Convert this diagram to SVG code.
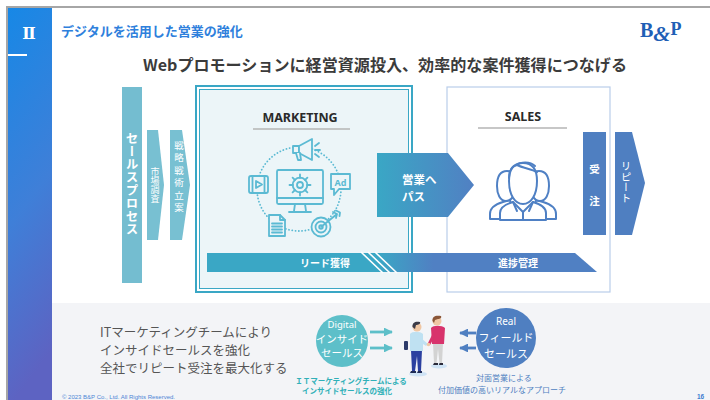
<svg xmlns="http://www.w3.org/2000/svg" width="710" height="400" viewBox="0 0 710 400">
  <defs>
    <linearGradient id="sideBar" x1="0" y1="0" x2="0.15" y2="1">
      <stop offset="0" stop-color="#1788e6"/>
      <stop offset="0.55" stop-color="#3f7fd8"/>
      <stop offset="1" stop-color="#5d63c2"/>
    </linearGradient>
    <linearGradient id="passGrad" x1="377" y1="0" x2="474" y2="0" gradientUnits="userSpaceOnUse">
      <stop offset="0" stop-color="#3aa7c5"/>
      <stop offset="1" stop-color="#5180c3"/>
    </linearGradient>
    <linearGradient id="progGrad" x1="207" y1="0" x2="597" y2="0" gradientUnits="userSpaceOnUse">
      <stop offset="0" stop-color="#3aa7c5"/>
      <stop offset="0.44" stop-color="#3aa7c5"/>
      <stop offset="0.58" stop-color="#5080c3"/>
      <stop offset="1" stop-color="#5080c3"/>
    </linearGradient>
    <marker id="tipR" viewBox="0 0 10 10" refX="9" refY="5" markerWidth="3.2" markerHeight="3.2" orient="auto">
      <path d="M0,0 L10,5 L0,10 Z" fill="context-stroke"/>
    </marker>
    <style>
      .jp { font-family: "Noto Sans CJK JP", "Noto Sans", sans-serif; }
      .lat { font-family: "Noto Sans", "Liberation Sans", sans-serif; }
      .vert { writing-mode: vertical-rl; text-anchor: middle; }
      .w { fill: #ffffff; }
      .b { font-weight: bold; }
      .ic { fill: #ecf5f8; stroke: #5bbad3; stroke-width: 1.8; stroke-linecap: round; stroke-linejoin: round; }
      .icl { fill: none; stroke: #5bbad3; stroke-width: 1.8; stroke-linecap: round; stroke-linejoin: round; }
      .pp { fill: #ffffff; stroke: #4f80c4; stroke-width: 2; stroke-linecap: round; stroke-linejoin: round; }
      .ppl { fill: none; stroke: #4f80c4; stroke-width: 2; stroke-linecap: round; stroke-linejoin: round; }
      .uline { stroke: #b4b4b4; stroke-width: 1.6; }
      .chev { fill: #78c0d2; }
    </style>
  </defs>

  <!-- page -->
  <rect x="0" y="0" width="710" height="400" fill="#ffffff"/>
  <rect x="52" y="303" width="658" height="97" fill="#f3f4f7"/>
  <path d="M7,400 V7 H710" fill="none" stroke="#a6a6a6" stroke-width="2"/>

  <!-- header -->
  <g id="header">
    <rect x="8" y="8" width="44" height="392" fill="url(#sideBar)"/>
    <text x="29" y="39" class="w b" font-family="DejaVu Serif, serif" font-size="16" text-anchor="middle">Ⅱ</text>
    <rect x="8" y="54" width="19" height="2" fill="#ffffff"/>
    <text x="61" y="36" class="jp b" font-size="13" fill="#2e80dc">デジタルを活用した営業の強化</text>
    <text id="logo" x="640" y="37" fill="#1f5fb6" font-family="Liberation Serif, serif" font-weight="bold" font-size="20"><tspan>B</tspan><tspan dy="4" font-size="22" font-style="italic">&amp;</tspan><tspan dy="-6" font-size="18">P</tspan></text>
    <text x="385" y="71" class="jp b" font-size="16" fill="#3b3b3b" text-anchor="middle" textLength="484" lengthAdjust="spacingAndGlyphs">Webプロモーションに経営資源投入、効率的な案件獲得につなげる</text>
  </g>

  <!-- process column -->
  <g id="sales-process">
    <rect x="122" y="87" width="20" height="196" fill="#74bdd0"/>
    <text x="132" y="184" class="jp vert w b" font-size="12.5" letter-spacing="0.5">セールスプロセス</text>
  </g>
  <g id="market-research">
    <path class="chev" d="M147,130 H158 L164,185 L158,240 H147 Z"/>
    <text x="155" y="185" class="jp vert w" font-size="9">市場調査</text>
  </g>
  <g id="strategy">
    <path class="chev" d="M170,130 H182 L190,185 L182,240 H170 Z"/>
    <text x="179" y="178" class="jp vert w" font-size="9.5" letter-spacing="3">戦略戦術立案</text>
  </g>

  <!-- marketing block -->
  <g id="marketing">
    <rect x="196" y="86" width="216" height="206" fill="#ffffff" stroke="#3aa7c5" stroke-width="2"/>
    <rect x="199.5" y="89.5" width="209" height="199" fill="#ecf5f8" stroke="#3aa7c5" stroke-width="1"/>
    <text x="300" y="122" class="lat b" font-size="12.5" fill="#2a2a2a" text-anchor="middle">MARKETING</text>
    <line class="uline" x1="253" y1="129" x2="350" y2="129"/>
    <!-- channel ring -->
    <circle cx="299" cy="189" r="42" fill="none" stroke="#5bbad3" stroke-width="1.8" stroke-dasharray="0.1 3.2" stroke-linecap="round"/>
    <!-- monitor with gear -->
    <rect class="ic" x="277" y="170" width="46" height="34" rx="1.5"/>
    <line class="icl" x1="277" y1="198" x2="323" y2="198"/>
    <path class="icl" d="M295,204 L294,211 M305,204 L306,211 M289,212 H311"/>
    <g transform="translate(300,185)">
      <circle class="icl" r="7.3"/>
      <circle class="icl" r="3"/>
      <path class="icl" stroke-width="3" stroke-linecap="butt" d="M0,-7 V-10.5 M0,7 V10.5 M-7,0 H-10.5 M7,0 H10.5 M5,-5 L7.4,-7.4 M-5,5 L-7.4,7.4 M5,5 L7.4,7.4 M-5,-5 L-7.4,-7.4"/>
    </g>
    <!-- megaphone -->
    <path class="ic" d="M293,146 H299 V153 H293 Z"/>
    <path class="ic" d="M299,146 L312,139 V160 L299,153 Z"/>
    <path class="ic" d="M296,153 L298,160 H301 L300,153"/>
    <path class="icl" d="M315,146 L319,143 M315,150 H320 M315,154 L319,157"/>
    <!-- video -->
    <rect class="ic" x="249" y="176" width="19" height="17" rx="2"/>
    <path class="icl" d="M252.5,176 V193 M264.5,176 V193"/>
    <path class="icl" d="M256,181 L262,184.5 L256,188 Z"/>
    <!-- ad bubble -->
    <path class="ic" d="M331,174 H350 V189 H339 L334,195 V189 H331 Z"/>
    <text x="340.5" y="185.5" class="lat b" font-size="9" fill="#5bbad3" text-anchor="middle">Ad</text>
    <!-- document -->
    <path class="ic" d="M269,215 H280 L285,220 V236 H269 Z"/>
    <path class="icl" d="M280,215 V220 H285 M272,223.5 H282 M272,226.5 H282 M272,229.5 H282 M272,232.5 H282"/>
    <!-- target -->
    <circle class="ic" cx="321" cy="227" r="9.5"/>
    <circle class="icl" cx="321" cy="227" r="5.5"/>
    <circle class="icl" cx="321" cy="227" r="1.8"/>
    <path class="icl" d="M321,227 L337,214 M333,212 L337,214 L336,218 M336,210.5 L340,212.5 L339.5,216"/>
  </g>

  <!-- sales block -->
  <g id="sales">
    <rect x="447" y="87" width="163" height="205" fill="#ffffff" stroke="#b9cdea" stroke-width="1.2"/>
    <text x="523" y="121" class="lat b" font-size="12.5" fill="#2a2a2a" text-anchor="middle">SALES</text>
    <line class="uline" x1="478" y1="128" x2="567" y2="128"/>
    <!-- team icon -->
    <path class="pp" d="M490,219 V214 C490,207 496,204 503,202 L510,200 L514,219 Z"/>
    <path class="pp" d="M556,219 V214 C556,207 550,204 543,202 L536,200 L532,219 Z"/>
    <path class="pp" d="M497,186 C497,176 501,171 507,171 C513,171 516,175 516,184 C516,194 512,201 506,201 C500,201 497,194 497,186 Z"/>
    <path class="pp" d="M549,186 C549,176 545,171 539,171 C533,171 530,175 530,184 C530,194 534,201 540,201 C546,201 549,194 549,186 Z"/>
    <path class="pp" d="M500,220 V213 C500,207 506,204 513,202 L523,212 L533,202 C540,204 546,207 546,213 V220 Z"/>
    <path class="pp" d="M509,181 C509,168 515,163 523,163 C531,163 537,168 537,181 C537,195 531,204 523,204 C515,204 509,195 509,181 Z"/>
    <path class="ppl" d="M509,178 C509,170 512,166 517,165 C523,168 531,169 537,172 M517,165 C520,162 530,161 535,166"/>
    <path class="ppl" d="M513,202 L517,211 M533,202 L529,211 M523,212 V220"/>
  </g>

  <!-- order / repeat -->
  <g id="order">
    <rect x="583" y="132" width="23" height="103" fill="#4f7fc1"/>
    <text x="594.5" y="173" class="jp w b" font-size="10.5" text-anchor="middle">受</text>
    <text x="594.5" y="205" class="jp w b" font-size="10.5" text-anchor="middle">注</text>
  </g>
  <g id="repeat">
    <path d="M615,132 H632 L645,183 L632,235 H615 Z" fill="#4f7fc1"/>
    <text x="626" y="182" class="jp vert w" font-size="10.5">リピート</text>
  </g>

  <!-- pass to sales -->
  <g id="pass-to-sales">
    <path d="M377,153 H448 L474,185 L448,217 H377 Z" fill="url(#passGrad)"/>
    <text x="402" y="184" class="jp w b" font-size="11.5">営業へ</text>
    <text x="402" y="201" class="jp w b" font-size="11.5">パス</text>
  </g>

  <!-- lead / progress band -->
  <g id="pipeline">
    <path d="M207,253 H575 L597,272 H207 Z" fill="url(#progGrad)"/>
    <path d="M361,252 L383,273 M368,252 L390,273 M375,252 L397,273" stroke="#ffffff" stroke-width="1.6"/>
    <text x="300" y="266.5" class="jp w b" font-size="10">リード獲得</text>
    <text x="518" y="266.5" class="jp w b" font-size="10" text-anchor="middle">進捗管理</text>
  </g>

  <!-- summary -->
  <g id="summary" class="jp" font-size="12.5" fill="#555555">
    <text x="100" y="337">ITマーケティングチームにより</text>
    <text x="100" y="355">インサイドセールスを強化</text>
    <text x="100" y="373">全社でリピート受注を最大化する</text>
  </g>

  <g id="digital">
    <circle cx="342" cy="341" r="26" fill="#5dbfc9"/>
    <text x="342" y="328" class="lat w" font-size="9.5" text-anchor="middle">Digital</text>
    <text x="342" y="343" class="jp w" font-size="10.5" text-anchor="middle">インサイド</text>
    <text x="342" y="357" class="jp w" font-size="10.5" text-anchor="middle">セールス</text>
    <text x="351" y="384" class="jp b" font-size="7.5" fill="#30b0b8" text-anchor="middle">ＩＴマーケティングチームによる</text>
    <text x="347" y="393.5" class="jp b" font-size="7.5" fill="#30b0b8" text-anchor="middle">インサイドセールスの強化</text>
  </g>

  <g id="real">
    <circle cx="506" cy="338" r="30" fill="#4f7fc1"/>
    <text x="506" y="325" class="lat w" font-size="10" text-anchor="middle">Real</text>
    <text x="506" y="342" class="jp w" font-size="11" text-anchor="middle">フィールド</text>
    <text x="506" y="358" class="jp w" font-size="11" text-anchor="middle">セールス</text>
    <text x="504" y="381" class="jp" font-size="8" fill="#4f7fc1" text-anchor="middle">対面営業による</text>
    <text x="502" y="393" class="jp" font-size="8" fill="#4f7fc1" text-anchor="middle">付加価値の高いリアルなアプローチ</text>
  </g>

  <g id="handshake">
    <ellipse cx="418" cy="374" rx="9" ry="2.5" fill="#cfe3f5"/>
    <ellipse cx="439" cy="366" rx="8" ry="2.5" fill="#cfe3f5"/>
    <!-- left person -->
    <rect x="404" y="341" width="4" height="9" rx="1" fill="#2d3a6a"/>
    <path d="M411,350 H422 L421,371 H418 L417,356 L415,371 H412 Z" fill="#2b40a0"/>
    <path d="M410,334 C412,331 420,331 423,334 L423,351 H410 Z" fill="#bfe1f2"/>
    <path d="M421,338 L428,344 L426,346 L420,342 Z" fill="#bfe1f2"/>
    <circle cx="417" cy="327" r="4.5" fill="#f0c7a4"/>
    <path d="M412.5,327 C412,322 416,321 420,322 C421,324 418,325 416,325 L415,329 Z" fill="#3b3b48"/>
    <path d="M411,371 H416 V373 H410 Z M418,371 H422 V373 H417 Z" fill="#1e2a55"/>
    <!-- right person -->
    <path d="M433,343 H443 L442,363 H439.5 L438,349 L436.5,363 H434 Z" fill="#d3d3d3"/>
    <path d="M431,328 C433,325 442,325 445,328 L444,344 H432 Z" fill="#d8336c"/>
    <path d="M433,333 L428,343 L430,345 L435,336 Z" fill="#d8336c"/>
    <circle cx="437" cy="321" r="4.5" fill="#f0c7a4"/>
    <path d="M432.5,321 C432,316 436,315 441,316 C442,318 440,319 438,319 L435,320 L434,323 Z" fill="#8a5638"/>
    <circle cx="428.5" cy="344.5" r="1.8" fill="#f0c7a4"/>
    <path d="M434,363 H438 V365 H433 Z M439.5,363 H443 V365 H439 Z" fill="#2a2a3a"/>
  </g>

  <!-- connectors -->
  <g id="connectors">
    <path d="M370,332 H392" stroke="#5dbfc9" stroke-width="2.8" marker-end="url(#tipR)"/>
    <path d="M370,348 H392" stroke="#5dbfc9" stroke-width="2.8" marker-end="url(#tipR)"/>
    <path d="M476,333 H460" stroke="#4f7fc1" stroke-width="2.8" marker-end="url(#tipR)"/>
    <path d="M476,348 H460" stroke="#4f7fc1" stroke-width="2.8" marker-end="url(#tipR)"/>
  </g>

  <!-- footer -->
  <g id="footer">
    <text x="62" y="399" font-family="Liberation Sans, sans-serif" font-size="6" fill="#4d86d6">© 2023 B&amp;P Co., Ltd. All Rights Reserved.</text>
    <text x="697" y="399" font-family="Liberation Sans, sans-serif" font-size="6.5" font-weight="bold" fill="#3d7dd0">16</text>
  </g>
</svg>
